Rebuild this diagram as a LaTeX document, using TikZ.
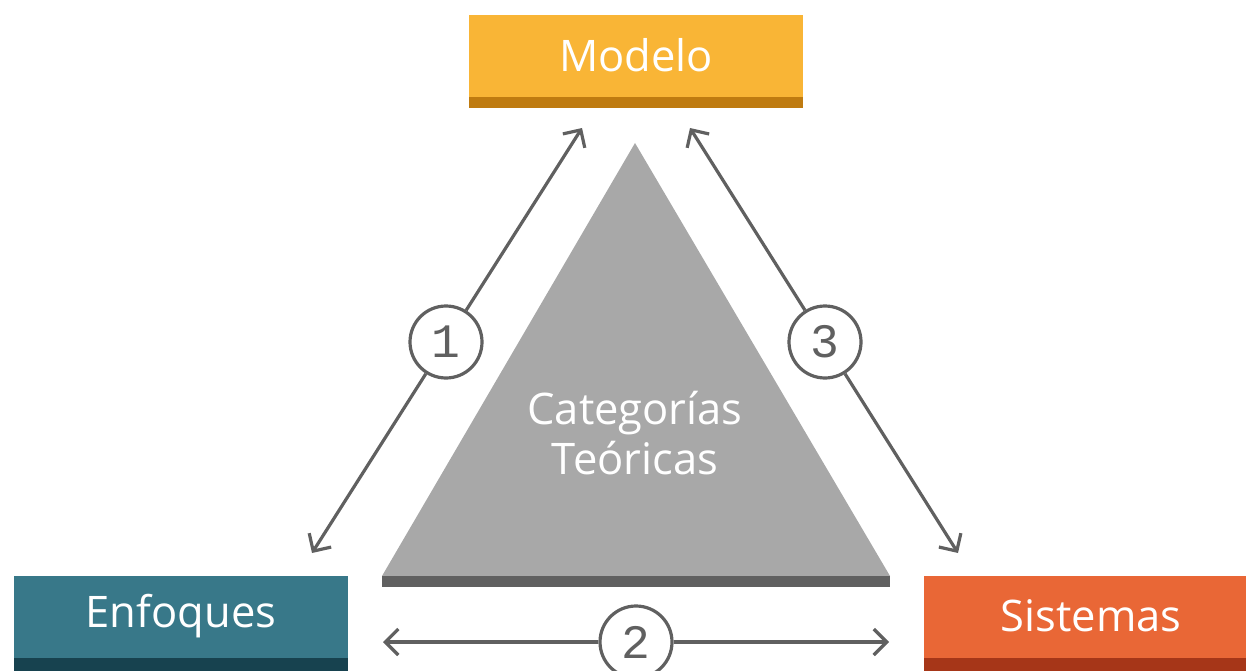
\documentclass[tikz,border=0pt]{standalone}
\usepackage{fontspec}
\setmainfont{Open Sans}
\newfontfamily\digitfont{Liberation Mono}
\usetikzlibrary{arrows.meta}
\definecolor{modelo}{HTML}{F9B536}
\definecolor{modelodark}{HTML}{BF7B10}
\definecolor{enfoq}{HTML}{387889}
\definecolor{enfoqdark}{HTML}{17424F}
\definecolor{sist}{HTML}{E96736}
\definecolor{sistdark}{HTML}{A63618}
\definecolor{tri}{HTML}{A8A8A8}
\definecolor{tridark}{HTML}{606060}
\definecolor{lin}{HTML}{606060}
\tikzset{
  boxlabel/.style={text=white, font=\fontsize{43.5}{46}\selectfont, anchor=center},
  numcirc/.style={circle, draw=lin, line width=3.2pt, fill=white, minimum size=72pt, inner sep=0pt, text=lin, font=\digitfont\fontsize{48}{48}\selectfont},
  arr/.style={draw=lin, line width=3.2pt, -{Straight Barb[length=13pt,width=26pt,line width=3.2pt]}}
}
\begin{document}
\begin{tikzpicture}[x=1pt,y=-1pt]
\useasboundingbox (0,0) rectangle (1246,671);
% boxes
\fill[modelo] (469,15) rectangle (803,97);
\fill[modelodark] (469,97) rectangle (803,108);
\node[boxlabel] (modelo) at (636,55) {Modelo};
\fill[enfoq] (14,576) rectangle (348,658);
\fill[enfoqdark] (14,658) rectangle (348,671);
\node[boxlabel] (enfoques) at (181,616) {Enfoques};
\fill[sist] (924,576) rectangle (1246,658);
\fill[sistdark] (924,658) rectangle (1246,671);
\node[boxlabel] (sistemas) at (1091,616) {Sistemas};
% triangle
\fill[tri] (635,143) -- (890,576) -- (382,576) -- cycle;
\fill[tridark] (382,576) rectangle (890,587);
\node[text=white, font=\fontsize{43.5}{50}\selectfont, align=center] (cat) at (635,433) {Categorías\\Teóricas};
% connectors
\coordinate (a1t) at (582,128);
\coordinate (a1b) at (312,553);
\coordinate (a3t) at (690,128);
\coordinate (a3b) at (958,553);
\coordinate (a2l) at (383,642);
\coordinate (a2r) at (889,642);
\node[numcirc] (c1) at (446,342) {1};
\node[numcirc] (c3) at (825,342) {3};
\node[numcirc] (c2) at (636,642) {2};
\draw[arr] (c1) -- (a1t);
\draw[arr] (c1) -- (a1b);
\draw[arr] (c3) -- (a3t);
\draw[arr] (c3) -- (a3b);
\draw[arr] (c2) -- (a2l);
\draw[arr] (c2) -- (a2r);
\end{tikzpicture}
\end{document}
